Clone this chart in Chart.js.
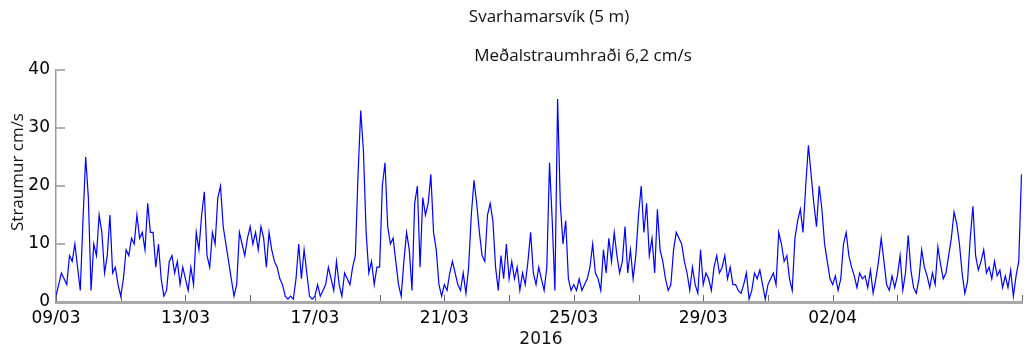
<!DOCTYPE html>
<html>
<head>
<meta charset="utf-8">
<script src="https://cdn.jsdelivr.net/npm/chart.js@4"></script>
<style>
  html, body { margin: 0; padding: 0; background: #fff; }
</style>
</head>
<body>
<canvas id="chart" width="1028" height="349"></canvas>
<script>
var titleText = 'Svarhamarsvík (5 m)';
var subtitleText = 'Meðalstraumhraði 6,2 cm/s';
var yAxisTitle = 'Straumur cm/s';
var xAxisTitle = '2016';
var xTickLabels = ['09/03', '13/03', '17/03', '21/03', '25/03', '29/03', '02/04', '06/04'];
var stepHours = 2;   // one reading every 2 hours, from 09/03 00:00

// current speed in cm/s, one row per day
var week1 = [
    1, 3, 5, 4, 3, 8, 7, 10, 6, 2, 14, 25,          // 09/03
    18, 2, 10, 8, 15, 12, 5, 8, 15, 5, 6, 3,
    1, 4, 9, 8, 11, 10, 15, 11, 12, 9, 17, 12,
    12, 6, 10, 4, 1, 2, 7, 8, 5, 7, 3, 6,
    4, 2, 6, 3, 12, 9, 15, 19, 8, 6, 12, 10,        // 13/03
    18, 20, 13, 10, 7, 4, 1, 3, 12, 10, 8, 11,
    13, 10, 12, 9, 13, 11, 6, 12, 9, 7, 6, 4
];
var week2 = [
    3, 1, 0.5, 1, 0.5, 4, 10, 4, 9, 5, 1, 0.5,      // 16/03
    1, 3, 1, 2, 3, 6, 4, 2, 7, 3, 1, 5,
    4, 3, 6, 8, 22, 33, 26, 12, 5, 7, 3, 6,
    6, 20, 24, 13, 10, 11, 7, 3, 1, 7, 12, 9,
    2, 17, 20, 6, 18, 15, 17, 22, 12, 9, 3, 1,      // 20/03
    3, 2, 5, 7, 5, 3, 2, 5, 1.5, 6, 15, 21,
    17, 12, 8, 7, 15, 17, 14, 6, 2, 8, 4, 10
];
var week3 = [
    4, 7, 4, 6, 2, 5, 3, 7, 12, 5, 3, 6,            // 23/03
    4, 2, 6, 24, 14, 2, 35, 17, 10, 14, 4, 2,
    3, 2, 4, 2, 3, 4, 6, 10, 5, 4, 2, 9,
    5, 11, 7, 12, 8, 5, 7, 13, 5, 9, 4, 8,
    15, 20, 12, 17, 8, 11, 5, 16, 9, 7, 4, 2,       // 27/03
    3, 9, 12, 11, 10, 7, 5, 2, 6, 3, 1.5, 9,
    3, 5, 4, 2, 6, 8, 5, 6, 8, 4, 6, 3
];
var week4 = [
    3, 2, 1.5, 3, 5, 0.5, 2, 5, 4, 5.5, 3, 0.5,     // 30/03
    3, 4, 5, 3, 12, 10, 7, 8, 4, 2, 11, 14,
    16, 12, 20, 27, 22, 17, 13, 20, 16, 10, 7, 4,
    3, 4.5, 2, 4, 10, 12, 8, 6, 4.5, 2.5, 5, 4,
    4.5, 2.5, 5.5, 1.5, 4, 7, 11, 7, 3, 2, 4.5, 2.5, // 03/04
    4.5, 8, 2, 5, 11.5, 5.5, 2.5, 1.5, 4, 9, 6, 4.5,
    2.5, 5, 3, 9.5, 6.5, 4, 5, 8, 11, 15.5, 13.5, 10
];
var week5 = [
    5, 1.5, 3.5, 11, 16.5, 8, 5.5, 7, 9, 5, 6, 4,   // 06/04
    7, 4.5, 5.5, 2.5, 4.5, 2.5, 5.5, 1, 4.5, 7, 22
];

var speed = week1.concat(week2, week3, week4, week5);
var points = speed.map(function (v, i) {
    return { x: i * stepHours / 24, y: v };
});

// MATLAB style: ticks pointing into the plot, texts placed by hand
var decor = {
    id: 'decor',
    afterDraw: function (chart) {
        var ctx = chart.ctx;
        var area = chart.chartArea;
        var xs = chart.scales.x;
        var ys = chart.scales.y;
        ctx.save();

        ctx.strokeStyle = '#666';
        ctx.lineWidth = 1;
        xs.ticks.forEach(function (t) {
            var px = Math.round(xs.getPixelForValue(t.value)) + 0.5;
            ctx.beginPath();
            ctx.moveTo(px, area.bottom - 1);
            ctx.lineTo(px, area.bottom - 7);
            ctx.stroke();
        });
        ctx.strokeStyle = '#b0b0b0';
        ctx.lineWidth = 2;
        ys.ticks.forEach(function (t) {
            if (t.value === 0) return;
            var py = Math.round(ys.getPixelForValue(t.value));
            ctx.beginPath();
            ctx.moveTo(area.left, py);
            ctx.lineTo(area.left + 9, py);
            ctx.stroke();
        });

        ctx.fillStyle = '#111';
        ctx.textAlign = 'center';
        ctx.textBaseline = 'middle';
        ctx.font = '17px "Open Sans"';
        ctx.fillText(titleText, 549, 17);
        ctx.fillText(subtitleText, 583, 56);
        ctx.font = '17px "DejaVu Sans"';
        ctx.fillText(xAxisTitle, 541, 340);
        ctx.translate(18, 172);
        ctx.rotate(-Math.PI / 2);
        ctx.font = '17px "Open Sans"';
        ctx.fillText(yAxisTitle, 0, 0);
        ctx.restore();
    }
};

new Chart(document.getElementById('chart').getContext('2d'), {
    type: 'line',
    data: {
        datasets: [{
            data: points,
            borderColor: '#0000ff',
            borderWidth: 1.2,
            pointRadius: 0,
            tension: 0,
            fill: false
        }]
    },
    options: {
        responsive: false,
        animation: false,
        layout: { padding: { top: 70, left: 0, right: 0, bottom: 0 } },
        plugins: {
            legend: { display: false },
            tooltip: { enabled: false },
            title: { display: false }
        },
        scales: {
            x: {
                type: 'linear',
                min: 0,
                max: 29.85,
                afterFit: function (scale) { scale.height = 47; },
                grid: { display: false, drawTicks: false },
                border: { display: true, color: '#a8a8a8', width: 3 },
                ticks: {
                    stepSize: 2,
                    autoSkip: false,
                    maxRotation: 0,
                    padding: 6,
                    color: '#000',
                    font: { family: 'DejaVu Sans', size: 17 },
                    callback: function (value) {
                        return value % 4 === 0 ? xTickLabels[value / 4] : '';
                    }
                }
            },
            y: {
                min: 0,
                max: 40,
                afterFit: function (scale) { scale.width = 56; },
                grid: { display: false, drawTicks: false },
                border: { display: true, color: '#9a9a9a', width: 1.5 },
                ticks: {
                    stepSize: 10,
                    padding: 6,
                    color: '#000',
                    font: { family: 'DejaVu Sans', size: 17 }
                }
            }
        }
    },
    plugins: [decor]
});
</script>
</body>
</html>
